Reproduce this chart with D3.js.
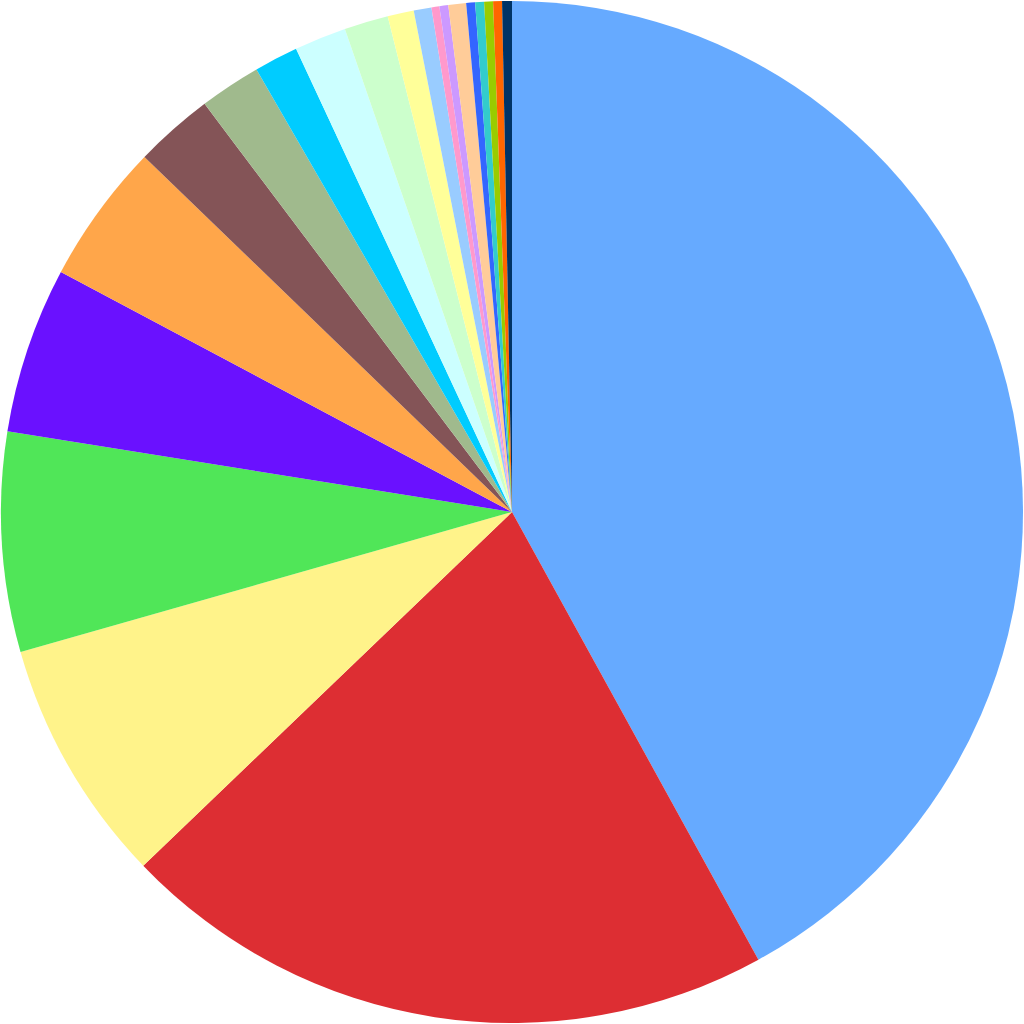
<!DOCTYPE html>
<html>
<head>
<meta charset="utf-8">
<script src="https://cdn.jsdelivr.net/npm/d3@7"></script>
<style>
  html, body { margin: 0; padding: 0; background: #fff; }
  svg { display: block; }
</style>
</head>
<body>
<script>
// slice values (share of the whole, in percent), clockwise from 12 o'clock
const values = [
  41.97, 20.83, 7.75, 6.94, 5.25, 4.44, 2.5, 1.94, 1.39, 1.64,
  1.39, 0.83, 0.56, 0.25, 0.28, 0.56, 0.28, 0.28, 0.28, 0.28, 0.31
];

const colors = [
  "#66aaff", "#dd2e33", "#fff38a", "#50e658", "#6a11ff", "#ffa64a",
  "#845457", "#a0ba8d", "#00ccff", "#ccffff", "#ccffcc", "#ffff99",
  "#99ccff", "#ff99cc", "#cc99ff", "#ffcc99", "#3366ff", "#33cccc",
  "#99cc00", "#ff6600", "#003366"
];

const width = 1024;
const height = 1024;
const radius = 511;

const svg = d3.select('body')
  .append('svg')
  .attr('width', width)
  .attr('height', height);

const g = svg.append('g')
  .attr('transform', `translate(${width / 2}, ${height / 2})`);

const pie = d3.pie()
  .sort(null)
  .value((d) => d);

const arc = d3.arc()
  .innerRadius(0)
  .outerRadius(radius);

g.selectAll('path')
  .data(pie(values))
  .enter()
  .append('path')
  .attr('d', arc)
  .attr('fill', (d, i) => colors[i]);
</script>
</body>
</html>
